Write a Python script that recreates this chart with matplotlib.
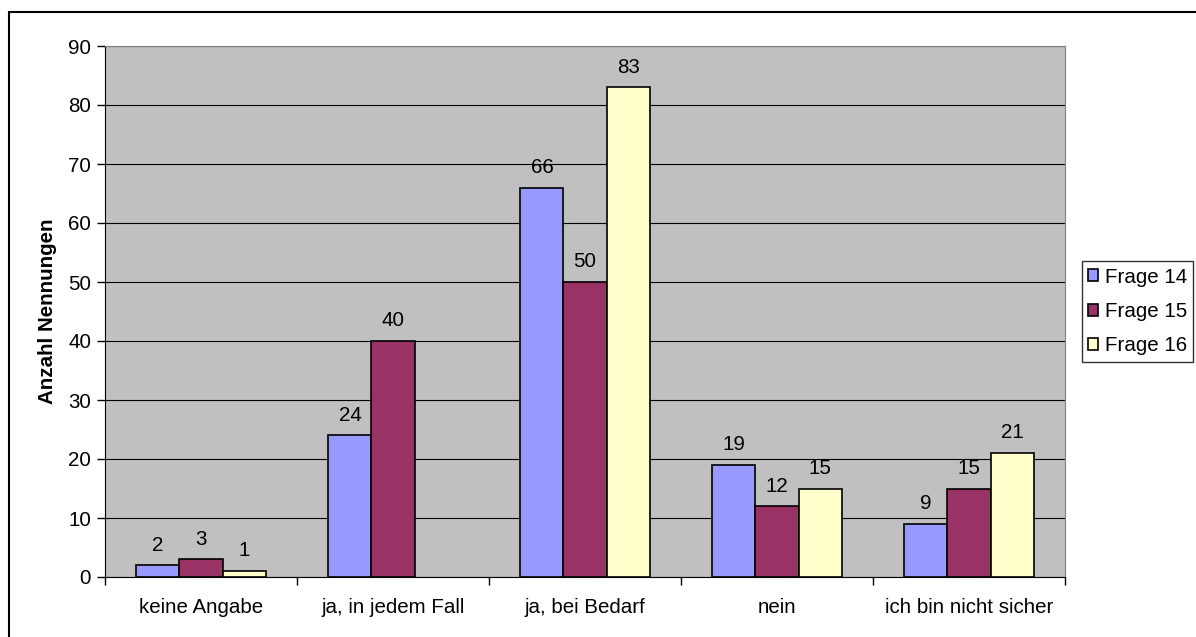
import matplotlib.pyplot as plt
import numpy as np
from matplotlib.patches import Rectangle

plt.rcParams['font.family'] = ['Liberation Sans', 'DejaVu Sans']

categories = ['keine Angabe', 'ja, in jedem Fall', 'ja, bei Bedarf', 'nein', 'ich bin nicht sicher']
frage14 = [2, 24, 66, 19, 9]
frage15 = [3, 40, 50, 12, 15]
frage16 = [1, None, 83, 15, 21]
series_names = ['Frage 14', 'Frage 15', 'Frage 16']
colors = ['#9999FF', '#993366', '#FFFFCC']

fs = 14.8
fig = plt.figure(figsize=(11.96, 6.37), dpi=100)
ax = fig.add_axes([105/1196, 60/637, 960/1196, 531/637])
ax.set_facecolor('#C0C0C0')

x = np.arange(len(categories))
w = 0.224
for i, (vals, name, col) in enumerate(zip([frage14, frage15, frage16], series_names, colors)):
    pos = x + (i - 1) * w
    v = np.array([np.nan if a is None else a for a in vals], dtype=float)
    ax.bar(pos, v, width=w, color=col, edgecolor='black', linewidth=1.2,
           label=name, zorder=3)
    for p, val in zip(pos, vals):
        if val is not None:
            ax.text(p, val + 1.8, str(val), ha='center', va='bottom', fontsize=fs, zorder=4)

ax.set_xlim(-0.5, len(categories) - 0.5)
ax.set_ylim(0, 90)
ax.set_yticks(range(0, 91, 10))
ax.set_xticks(x)
ax.set_xticklabels(categories, fontsize=fs)
ax.set_xticks(np.arange(-0.5, len(categories)), minor=True)
ax.tick_params(axis='x', which='major', length=0, pad=15)
ax.tick_params(axis='x', which='minor', length=6, width=1, direction='out')
ax.tick_params(axis='y', length=6, width=1, direction='out', labelsize=fs, pad=4)
ax.grid(axis='y', color='black', linewidth=0.8, zorder=1)
ax.set_axisbelow(True)
for s in ['top', 'right']:
    ax.spines[s].set_color('#808080')
ax.spines['left'].set_color('black')
ax.spines['bottom'].set_color('black')
ax.set_ylabel('Anzahl Nennungen', fontsize=fs, fontweight='bold', labelpad=8)

leg = ax.legend(loc='center left', bbox_to_anchor=(977/960, 0.5), fontsize=fs,
                frameon=True, fancybox=False, edgecolor='black', handlelength=0.5,
                handleheight=0.5, handletextpad=0.3, borderpad=0.3, labelspacing=0.75,
                borderaxespad=0)
leg.get_frame().set_linewidth(1)

fig.patches.append(Rectangle((9/1196, -0.1), 1.2, (625/637) + 0.1, transform=fig.transFigure,
                             fill=False, edgecolor='black', linewidth=1.5))

fig.savefig('out.png', dpi=100)
